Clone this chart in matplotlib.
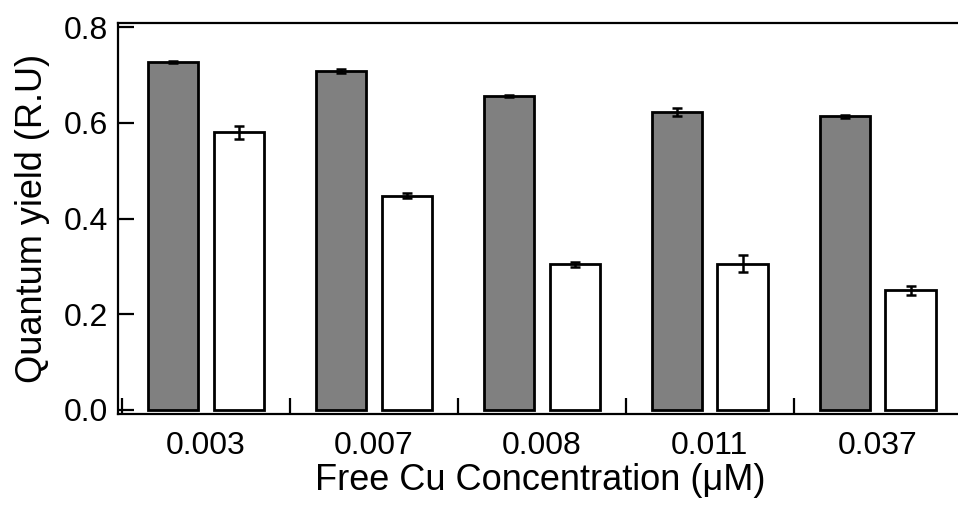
import numpy as np
import matplotlib
matplotlib.use('Agg')
import matplotlib.pyplot as plt

conc_labels = ['0.003', '0.007', '0.008', '0.011', '0.037']
gray_vals = [0.727, 0.708, 0.656, 0.623, 0.614]
gray_err = [0.003, 0.005, 0.003, 0.008, 0.003]
white_vals = [0.580, 0.448, 0.304, 0.306, 0.250]
white_err = [0.014, 0.006, 0.005, 0.018, 0.009]

plt.rcParams['font.family'] = ['Liberation Sans', 'DejaVu Sans']

fig = plt.figure(figsize=(9.58, 5.09), dpi=100)
ax = fig.add_axes([0.1232, 0.1866, 0.8808, 0.7682])

x = np.arange(len(conc_labels))
w = 0.3
off = 0.195
ekw = dict(elinewidth=1.8, capthick=1.8, ecolor='black')
ax.bar(x - off, gray_vals, w, yerr=gray_err, color='#808080', edgecolor='black',
       linewidth=2.0, capsize=3.8, error_kw=ekw, zorder=2)
ax.bar(x + off, white_vals, w, yerr=white_err, color='white', edgecolor='black',
       linewidth=2.0, capsize=3.8, error_kw=ekw, zorder=2)

ax.set_xlim(-0.524, 4.5)
ax.set_ylim(-0.0084, 0.8084)
ax.set_yticks([0.0, 0.2, 0.4, 0.6, 0.8])
ax.set_yticklabels(['0.0', '0.2', '0.4', '0.6', '0.8'])
ax.set_xticks(x)
ax.set_xticklabels(conc_labels)
ax.set_xticks(np.arange(-0.5, 4.0, 1.0), minor=True)

ax.tick_params(axis='y', direction='in', length=11.5, width=1.6, labelsize=23, pad=7)
ax.tick_params(axis='x', which='major', length=0, labelsize=23, pad=12)
ax.tick_params(axis='x', which='minor', direction='in', length=11.5, width=1.6)

for s in ['left', 'bottom', 'top']:
    ax.spines[s].set_linewidth(1.6)
ax.spines['right'].set_visible(False)

ax.set_xlabel('Free Cu Concentration (μM)', fontsize=26, labelpad=2)
ax.set_ylabel('Quantum yield (R.U)', fontsize=26, labelpad=10)

fig.savefig('out.png', dpi=100)
